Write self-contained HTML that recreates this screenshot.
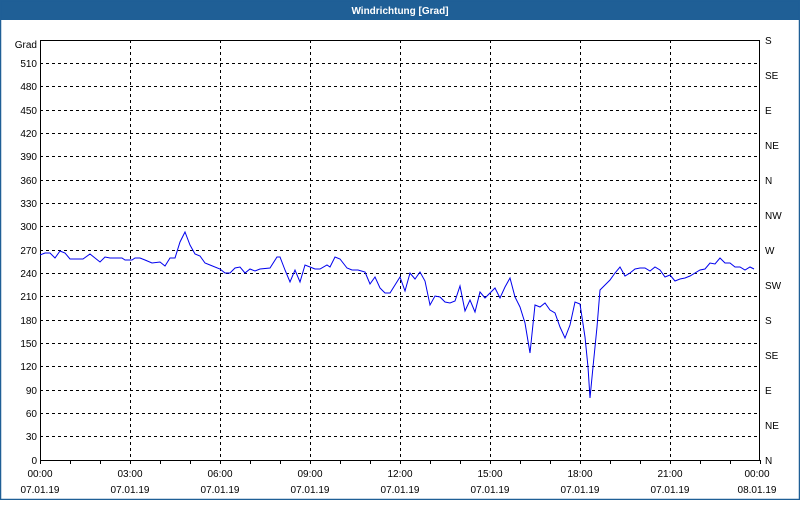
<!DOCTYPE html>
<html><head><meta charset="utf-8"><style>
body{margin:0;width:800px;height:500px;overflow:hidden;background:#fff;font-family:"Liberation Sans",sans-serif}
</style></head><body>
<svg width="800" height="500" xmlns="http://www.w3.org/2000/svg" font-family="Liberation Sans, sans-serif" font-size="10">
<rect x="0" y="0" width="800" height="500" fill="#fff"/>
<rect x="0" y="0" width="800" height="20" fill="#1f5f96"/>
<rect x="0.5" y="0.5" width="799" height="499" fill="none" stroke="#1f5f96" stroke-width="1.5"/>
<text x="400" y="14" fill="#fff" font-weight="bold" font-size="10" text-anchor="middle">Windrichtung [Grad]</text>
<g stroke="#000" stroke-width="1" stroke-dasharray="3,3">
<line x1="40" y1="63.5" x2="760" y2="63.5"/><line x1="40" y1="86.5" x2="760" y2="86.5"/><line x1="40" y1="110.5" x2="760" y2="110.5"/><line x1="40" y1="133.5" x2="760" y2="133.5"/><line x1="40" y1="156.5" x2="760" y2="156.5"/><line x1="40" y1="180.5" x2="760" y2="180.5"/><line x1="40" y1="203.5" x2="760" y2="203.5"/><line x1="40" y1="226.5" x2="760" y2="226.5"/><line x1="40" y1="250.5" x2="760" y2="250.5"/><line x1="40" y1="273.5" x2="760" y2="273.5"/><line x1="40" y1="296.5" x2="760" y2="296.5"/><line x1="40" y1="320.5" x2="760" y2="320.5"/><line x1="40" y1="343.5" x2="760" y2="343.5"/><line x1="40" y1="366.5" x2="760" y2="366.5"/><line x1="40" y1="390.5" x2="760" y2="390.5"/><line x1="40" y1="413.5" x2="760" y2="413.5"/><line x1="40" y1="436.5" x2="760" y2="436.5"/>
<line x1="130.5" y1="40" x2="130.5" y2="460"/><line x1="220.5" y1="40" x2="220.5" y2="460"/><line x1="310.5" y1="40" x2="310.5" y2="460"/><line x1="400.5" y1="40" x2="400.5" y2="460"/><line x1="490.5" y1="40" x2="490.5" y2="460"/><line x1="580.5" y1="40" x2="580.5" y2="460"/><line x1="670.5" y1="40" x2="670.5" y2="460"/>
</g>
<rect x="40.5" y="40.5" width="719" height="420" fill="none" stroke="#000"/>
<g stroke="#000"><line x1="70.5" y1="460" x2="70.5" y2="464"/><line x1="100.5" y1="460" x2="100.5" y2="464"/><line x1="130.5" y1="460" x2="130.5" y2="464"/><line x1="160.5" y1="460" x2="160.5" y2="464"/><line x1="190.5" y1="460" x2="190.5" y2="464"/><line x1="220.5" y1="460" x2="220.5" y2="464"/><line x1="250.5" y1="460" x2="250.5" y2="464"/><line x1="280.5" y1="460" x2="280.5" y2="464"/><line x1="310.5" y1="460" x2="310.5" y2="464"/><line x1="340.5" y1="460" x2="340.5" y2="464"/><line x1="370.5" y1="460" x2="370.5" y2="464"/><line x1="400.5" y1="460" x2="400.5" y2="464"/><line x1="430.5" y1="460" x2="430.5" y2="464"/><line x1="460.5" y1="460" x2="460.5" y2="464"/><line x1="490.5" y1="460" x2="490.5" y2="464"/><line x1="520.5" y1="460" x2="520.5" y2="464"/><line x1="550.5" y1="460" x2="550.5" y2="464"/><line x1="580.5" y1="460" x2="580.5" y2="464"/><line x1="610.5" y1="460" x2="610.5" y2="464"/><line x1="640.5" y1="460" x2="640.5" y2="464"/><line x1="670.5" y1="460" x2="670.5" y2="464"/><line x1="700.5" y1="460" x2="700.5" y2="464"/><line x1="730.5" y1="460" x2="730.5" y2="464"/><line x1="40.5" y1="460" x2="40.5" y2="464"/><line x1="760.5" y1="460" x2="760.5" y2="464"/></g>
<g text-anchor="end" fill="#000">
<text x="37" y="48">Grad</text>
<text x="37" y="67">510</text><text x="37" y="90">480</text><text x="37" y="114">450</text><text x="37" y="137">420</text><text x="37" y="160">390</text><text x="37" y="184">360</text><text x="37" y="207">330</text><text x="37" y="230">300</text><text x="37" y="254">270</text><text x="37" y="277">240</text><text x="37" y="300">210</text><text x="37" y="324">180</text><text x="37" y="347">150</text><text x="37" y="370">120</text><text x="37" y="394">90</text><text x="37" y="417">60</text><text x="37" y="440">30</text><text x="37" y="464">0</text>
</g>
<g fill="#000">
<text x="765" y="44">S</text><text x="765" y="79">SE</text><text x="765" y="114">E</text><text x="765" y="149">NE</text><text x="765" y="184">N</text><text x="765" y="219">NW</text><text x="765" y="254">W</text><text x="765" y="289">SW</text><text x="765" y="324">S</text><text x="765" y="359">SE</text><text x="765" y="394">E</text><text x="765" y="429">NE</text><text x="765" y="464">N</text>
</g>
<g text-anchor="middle" fill="#000">
<text x="40" y="477">00:00</text><text x="40" y="493">07.01.19</text>
<text x="130" y="477">03:00</text><text x="130" y="493">07.01.19</text>
<text x="220" y="477">06:00</text><text x="220" y="493">07.01.19</text>
<text x="310" y="477">09:00</text><text x="310" y="493">07.01.19</text>
<text x="400" y="477">12:00</text><text x="400" y="493">07.01.19</text>
<text x="490" y="477">15:00</text><text x="490" y="493">07.01.19</text>
<text x="580" y="477">18:00</text><text x="580" y="493">07.01.19</text>
<text x="670" y="477">21:00</text><text x="670" y="493">07.01.19</text>
<text x="757" y="477">00:00</text><text x="757" y="493">08.01.19</text>
</g>
<polyline fill="none" stroke="#0000ee" stroke-width="1" points="40,255 45,253 50,253 55,258 60,251 65,253 70,259 83,259 90,254 95,258 100,262 105,257 110,258 122,258 125,260 132,260 135,258 140,258 145,260 152,263 160,262 165,266 170,258 175,258 180,242 185,232 190,245 195,254 200,256 205,263 210,265 220,269 225,273 230,273 235,268 240,267 245,273 250,269 255,271 260,269 270,268 277,257 280,257 285,270 290,282 295,270 300,282 305,265 310,267 315,269 320,269 327,265 330,267 335,257 340,259 347,268 352,270 358,270 365,272 370,284 375,277 380,288 385,293 390,293 395,285 400,277 405,291 410,273 415,279 420,272 425,281 430,305 435,296 440,297 445,302 450,303 455,301 460,286 465,311 470,300 475,312 480,292 485,298 490,293 495,288 500,298 505,287 510,278 515,297 520,307 525,323 530,353 535,305 540,307 545,303 550,310 555,313 560,327 565,338 570,325 575,302 580,304 585,337 588,367 590,398 593,367 597,327 600,290 605,285 610,280 615,273 620,267 625,276 630,273 635,269 640,268 645,268 650,271 655,267 660,270 665,277 670,275 675,281 680,279 685,278 690,276 695,273 700,270 705,269 710,263 715,264 720,258 725,263 730,263 735,267 740,267 745,270 750,267 754,269"/>
</svg>
</body></html>
